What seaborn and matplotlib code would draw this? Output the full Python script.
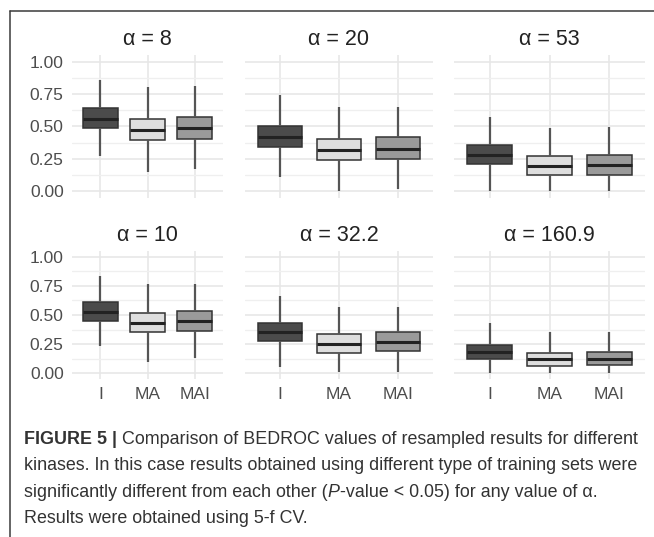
import matplotlib
matplotlib.use("Agg")
import matplotlib.pyplot as plt
from matplotlib.lines import Line2D
import seaborn as sns
import pandas as pd

# training sets and the six alpha panels
sets = ["I", "MA", "MAI"]
alphas = ["8", "20", "53", "10", "32.2", "160.9"]

# five numbers per box: low whisker, Q1, median, Q3, high whisker
bedroc_8 = {"I": [0.27, 0.485, 0.56, 0.64, 0.86],
            "MA": [0.15, 0.395, 0.47, 0.555, 0.80],
            "MAI": [0.17, 0.405, 0.485, 0.57, 0.81]}
bedroc_20 = {"I": [0.11, 0.345, 0.42, 0.50, 0.74],
             "MA": [0.0, 0.24, 0.32, 0.405, 0.65],
             "MAI": [0.02, 0.25, 0.33, 0.42, 0.65]}
bedroc_53 = {"I": [0.0, 0.21, 0.28, 0.36, 0.57],
             "MA": [0.0, 0.125, 0.195, 0.27, 0.485],
             "MAI": [0.0, 0.13, 0.205, 0.28, 0.495]}
bedroc_10 = {"I": [0.23, 0.45, 0.53, 0.61, 0.835],
             "MA": [0.10, 0.355, 0.435, 0.52, 0.77],
             "MAI": [0.13, 0.365, 0.45, 0.535, 0.77]}
bedroc_32 = {"I": [0.055, 0.28, 0.355, 0.435, 0.66],
             "MA": [0.01, 0.175, 0.255, 0.335, 0.57],
             "MAI": [0.01, 0.19, 0.265, 0.35, 0.57]}
bedroc_161 = {"I": [0.0, 0.12, 0.185, 0.245, 0.43],
              "MA": [0.0, 0.065, 0.12, 0.175, 0.35],
              "MAI": [0.0, 0.07, 0.125, 0.185, 0.35]}
panels = [bedroc_8, bedroc_20, bedroc_53, bedroc_10, bedroc_32, bedroc_161]

rows = []
for a, p in zip(alphas, panels):
    for s in sets:
        for v in p[s]:
            rows.append({"alpha": a, "set": s, "value": v})
df = pd.DataFrame(rows)

colors = {"I": "#4b4b4b", "MA": "#dedede", "MAI": "#9a9a9a"}

sns.set_theme(style="white")
plt.rcParams["font.family"] = ["Liberation Sans", "DejaVu Sans"]

W, H = 654, 537
fig = plt.figure(figsize=(W / 100, H / 100), dpi=100)

# panel boxes in pixels (the scan is not evenly spaced)
cols_px = [(72, 223), (245, 433), (454, 645)]
rows_px = [(55, 198), (251, 379)]

def px_rect(x0, x1, y0, y1):
    return [x0 / W, 1 - y1 / H, (x1 - x0) / W, (y1 - y0) / H]

for i, a in enumerate(alphas):
    r, c = divmod(i, 3)
    ax = fig.add_axes(px_rect(*cols_px[c], *rows_px[r]))
    sub = df[df["alpha"] == a]
    sns.boxplot(data=sub, x="set", y="value", hue="set", order=sets,
                hue_order=sets, palette=colors, legend=False, whis=(0, 100),
                width=0.75, linecolor="#333333", linewidth=1.1,
                showfliers=False, showcaps=False, ax=ax,
                whiskerprops=dict(color="#555555", linewidth=1.6),
                medianprops=dict(color="#222222", linewidth=2.2))
    ax.set_xlim(-0.6, 2.6)
    ax.set_ylim(-0.05, 1.05)
    ax.set_yticks([0, 0.25, 0.5, 0.75, 1.0])
    ax.set_yticks([0.125, 0.375, 0.625, 0.875], minor=True)
    ax.set_axisbelow(True)
    ax.grid(True, which="major", color="#e6e6e6", linewidth=1.1)
    ax.grid(True, which="minor", axis="y", color="#efefef", linewidth=0.9)
    for sp in ax.spines.values():
        sp.set_visible(False)
    ax.tick_params(length=0, labelsize=12.5, labelcolor="#4d4d4d", pad=6)
    ax.set_xlabel("")
    ax.set_ylabel("")
    if c == 0:
        ax.set_yticklabels(["0.00", "0.25", "0.50", "0.75", "1.00"])
    else:
        ax.set_yticklabels([])
    if r == 1:
        ax.set_xticks(range(3))
        ax.set_xticklabels(sets)
    else:
        ax.set_xticklabels([])
    ax.set_title(f"α = {a}", fontsize=15.5, color="#222222", pad=7)

# frame lines of the figure box
fig.add_artist(Line2D([10 / W, 1], [1 - 11 / H, 1 - 11 / H], color="#3a3a3a", lw=1.1))
fig.add_artist(Line2D([10 / W, 10 / W], [1 - 11 / H, 0], color="#3a3a3a", lw=1.1))

# caption
cap_font = ["Liberation Sans", "DejaVu Sans"]
cap_size = 12.9
cap_color = "#333333"
x0 = 24 / W
baselines = [444, 470, 497, 523]
renderer = fig.canvas.get_renderer()

def put_pieces(pieces, ybase):
    x = x0
    for txt, kw in pieces:
        t = fig.text(x, 1 - ybase / H, txt, fontsize=cap_size, color=cap_color,
                     family=cap_font, va="baseline", ha="left", **kw)
        bb = t.get_window_extent(renderer)
        x = bb.x1 / W

put_pieces([("FIGURE 5 | ", dict(weight="bold")),
            ("Comparison of BEDROC values of resampled results for different", {})],
           baselines[0])
put_pieces([("kinases. In this case results obtained using different type of training sets were", {})],
           baselines[1])
put_pieces([("significantly different from each other (", {}),
            ("P", dict(style="italic")),
            ("-value < 0.05) for any value of α.", {})],
           baselines[2])
put_pieces([("Results were obtained using 5-f CV.", {})], baselines[3])

fig.savefig("out.png", dpi=100)
